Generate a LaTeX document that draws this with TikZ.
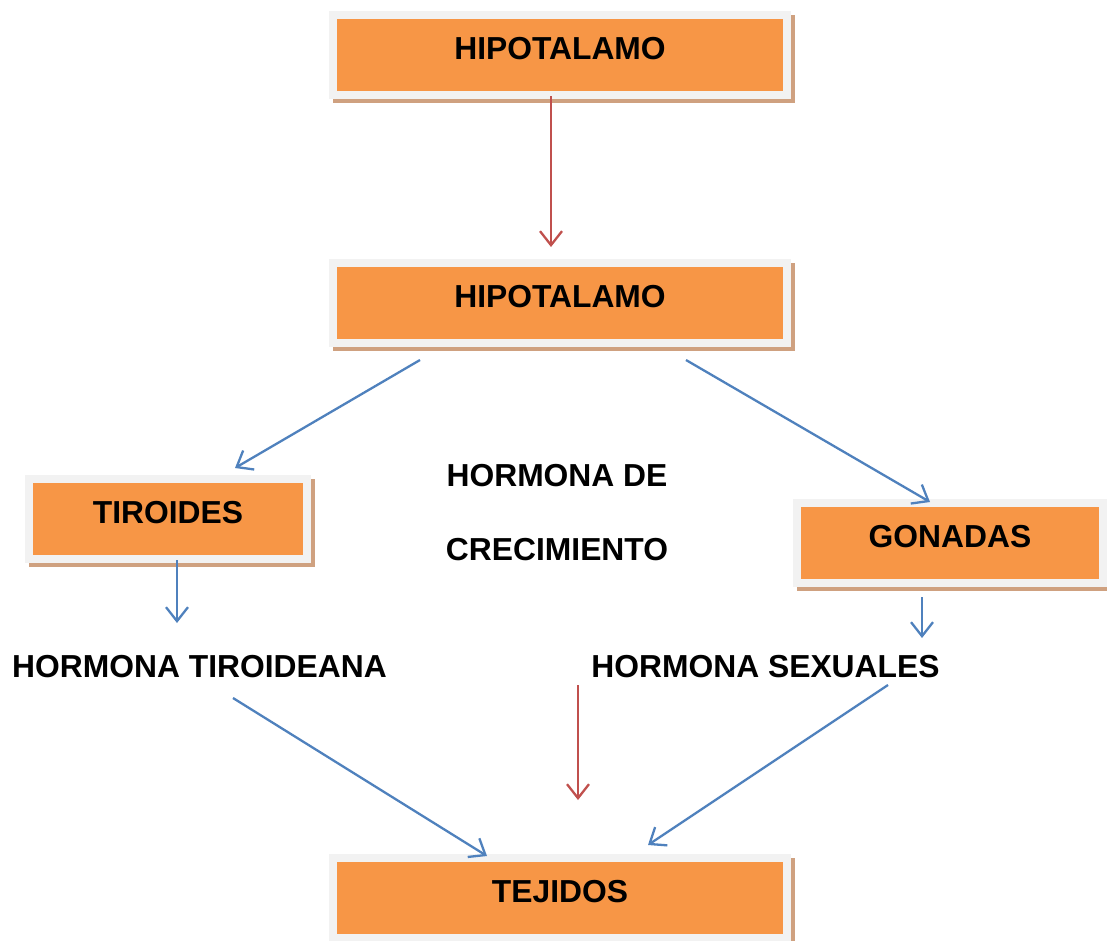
\documentclass[tikz,border=0pt]{standalone}
\usepackage{fontspec}
\setmainfont{Liberation Sans}
\usepackage{tikz}
\usetikzlibrary{arrows.meta}
\definecolor{naranja}{RGB}{247,150,70}
\definecolor{marco}{RGB}{242,242,242}
\definecolor{sombra}{RGB}{207,161,128}
\definecolor{rojo}{RGB}{192,80,77}
\definecolor{azul}{RGB}{79,129,189}
\tikzstyle{organo} = [rectangle, fill=naranja, draw=marco, line width=8pt, text height=44pt, text depth=36pt, inner xsep=0pt, inner ysep=0pt, font=\bfseries\fontsize{31.8}{38}\selectfont, preaction={draw=sombra, fill=sombra, transform canvas={xshift=4pt,yshift=-4pt}}]
\tikzstyle{texto} = [inner sep=0pt, anchor=base, font=\bfseries\fontsize{31.8}{38}\selectfont]
\tikzstyle{flechaazul} = [azul, line width=2.3pt, -{Straight Barb[length=14pt,width=22pt]}]
\tikzstyle{flecharoja} = [rojo, line width=2.3pt, -{Straight Barb[length=14pt,width=22pt]}]

\begin{document}
\begin{tikzpicture}[x=1pt, y=1pt, node distance=248pt]
\useasboundingbox (0,0) rectangle (1107,-940);
\node (hip1) [organo, minimum width=454pt] at (560,-55) {HIPOTALAMO};
\node (hip2) [organo, minimum width=454pt, below of=hip1] {HIPOTALAMO};
\node (tiroides) [organo, minimum width=278pt, below of=hip2, xshift=-392pt, yshift=32pt] {TIROIDES};
\node (gonadas) [organo, minimum width=306pt, below of=hip2, xshift=390pt, yshift=8pt] {GONADAS};
\node (tejidos) [organo, minimum width=454pt, below of=hip2, yshift=-347pt] {TEJIDOS};
\node (hgc1) [texto] at (557,-486) {HORMONA DE};
\node (hgc2) [texto] at (557,-560) {CRECIMIENTO};
\node (htir) [texto] at (199.5,-677) {HORMONA TIROIDEANA};
\node (hsex) [texto] at (765.5,-677) {HORMONA SEXUALES};
% hipotalamo hacia abajo
\draw[flecharoja] ([xshift=-9pt,yshift=3pt]hip1.south) -- ([xshift=-9pt,yshift=12pt]hip2.north);
\draw[flechaazul] ([xshift=-140pt,yshift=-13pt]hip2.south) -- ([xshift=67pt,yshift=7pt]tiroides.north);
\draw[flechaazul] ([xshift=126pt,yshift=-13pt]hip2.south) -- ([xshift=-20pt,yshift=-3pt]gonadas.north);
% glandulas y hormonas
\draw[flechaazul] ([xshift=9pt,yshift=3pt]tiroides.south) -- ([xshift=-22.5pt,yshift=54pt]htir.base);
\draw[flechaazul] ([xshift=-28pt,yshift=-10pt]gonadas.south) -- ([xshift=156.5pt,yshift=39pt]hsex.base);
% hacia los tejidos
\draw[flechaazul] ([xshift=33.5pt,yshift=-21pt]htir.base) -- ([xshift=-73pt,yshift=-2pt]tejidos.north);
\draw[flechaazul] ([xshift=122.5pt,yshift=-8pt]hsex.base) -- ([xshift=88pt,yshift=9pt]tejidos.north);
\draw[flecharoja] ([xshift=21pt,yshift=-125pt]hgc2.base) -- ([xshift=18pt,yshift=54pt]tejidos.north);
\end{tikzpicture}
\end{document}
